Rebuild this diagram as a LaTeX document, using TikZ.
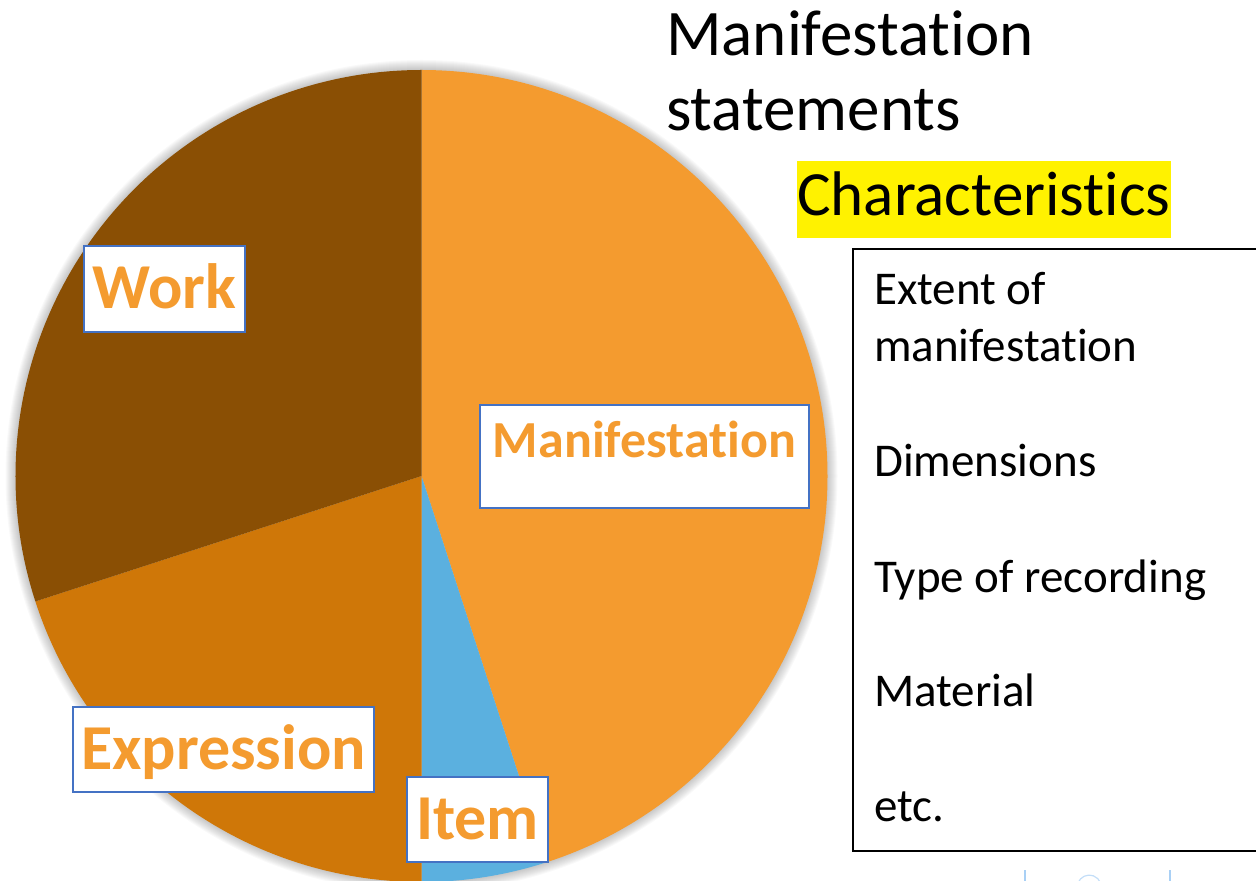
\documentclass[tikz,border=0pt]{standalone}
\usepackage{fontspec}
\setmainfont{Carlito}[Ligatures={NoCommon}]
\definecolor{workc}{HTML}{8A4F04}
\definecolor{exprc}{HTML}{CF7708}
\definecolor{manc}{HTML}{F49B2F}
\definecolor{itemc}{HTML}{5BB0DF}
\definecolor{lblborder}{HTML}{4472C4}
\definecolor{lbltext}{HTML}{F49B2F}
\definecolor{faintblue}{HTML}{A9D0F5}
\tikzset{
  lbl/.style={draw=lblborder, line width=1.4pt, fill=white, text=lbltext,
    font=\fontsize{64}{70}\selectfont\bfseries, inner sep=0pt,
    text height=40pt, text depth=0pt, align=center},
  titletxt/.style={font=\fontsize{65}{75}\selectfont, inner sep=0pt, anchor=base west},
  listtxt/.style={font=\fontsize{47}{56}\selectfont, inner sep=0pt, anchor=base west},
}
\begin{document}
\begin{tikzpicture}[x=1pt,y=1pt]
\useasboundingbox (0,0) rectangle (1256,881);
\clip (0,0) rectangle (1256,881);
\coordinate (C) at (421.5,405);
% soft glow shadow
\foreach \i in {1,...,10}{
  \fill[black, opacity=0.022] (C) circle[radius=406+\i];
}
% slices
\fill[manc] (C) -- ++(90:406) arc[start angle=90, end angle=-72, radius=406] -- cycle;
\fill[itemc] (C) -- ++(-72:406) arc[start angle=-72, end angle=-90, radius=406] -- cycle;
\fill[exprc] (C) -- ++(-90:406) arc[start angle=-90, end angle=-162, radius=406] -- cycle;
\fill[workc] (C) -- ++(-162:406) arc[start angle=-162, end angle=-270, radius=406] -- cycle;
% labels
\node[lbl, minimum width=161pt, minimum height=86pt] (work) at (164.5,592) {Work};
\node[lbl, minimum width=329pt, minimum height=103pt, font=\fontsize{52}{60}\selectfont\bfseries, text height=32pt, text depth=29pt] (manif) at (644.5,424.5) {Manifestation};
\node[lbl, minimum width=301pt, minimum height=85pt] (expr) at (223.5,131.5) {Expression};
\node[lbl, minimum width=141pt, minimum height=85pt] (item) at (477.5,61.5) {Item};
% title
\node[titletxt] (t1) at (666,825) {Manifestation};
\node[titletxt] (t2) at (666,750) {statements};
\node[titletxt, font=\fontsize{63}{70}\selectfont, fill=yellow, inner xsep=0pt, text height=55pt, text depth=22pt] (chars) at (797,665) {Characteristics};
% characteristics box
\draw[black, line width=1.8pt] (853,632) rectangle (1265,30);
\node[listtxt] (l1) at (874,576) {Extent of};
\node[listtxt] (l2) at (874,519) {manifestation};
\node[listtxt] (l3) at (874,404) {Dimensions};
\node[listtxt] (l4) at (874,288) {Type of recording};
\node[listtxt] (l5) at (874,174) {Material};
\node[listtxt] (l6) at (874,59) {etc.};
% faint marks at bottom right
\draw[faintblue, line width=1.2pt] (1025,0) -- (1025,11);
\draw[faintblue, line width=1.2pt] (1170,0) -- (1170,11);
\draw[faintblue!70, line width=1.2pt] (1078,-2) arc[start angle=160, end angle=20, radius=12];
\end{tikzpicture}
\end{document}
